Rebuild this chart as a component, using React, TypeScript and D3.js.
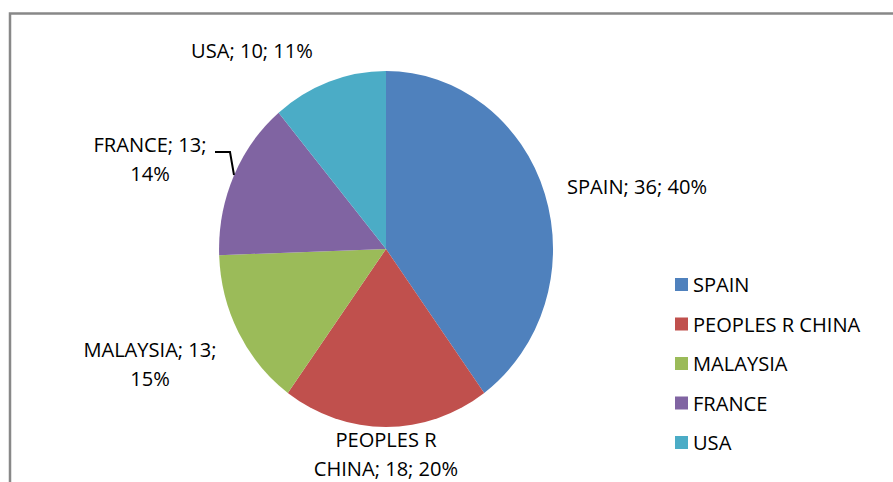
import React from "react";
import * as d3 from "d3";

const categories = ["SPAIN", "PEOPLES R CHINA", "MALAYSIA", "FRANCE", "USA"];
const values = [36, 18, 13, 13, 10];
const percentLabels = ["40%", "20%", "15%", "14%", "11%"];
const colors = ["#4F81BD", "#C0504D", "#9BBB59", "#8064A2", "#4BACC6"];

const W = 893;
const H = 482;
const FONT = "'Open Sans', 'Liberation Sans', sans-serif";
const FS = 20.5;

export default function App() {
  const cx = 386;
  const cy = 249;
  const rx = 167;
  const ry = 178;

  const pie = d3
    .pie<number>()
    .sort(null)
    .startAngle(0)
    .endAngle(2 * Math.PI)
    .value((d) => d);
  const arcs = pie(values);
  const arc = d3.arc<d3.PieArcDatum<number>>().innerRadius(0).outerRadius(1);

  const labelLayout: { lines: string[]; x: number; y: number }[] = [
    { lines: [`${categories[0]}; ${values[0]}; ${percentLabels[0]}`], x: 637, y: 194 },
    { lines: [`PEOPLES R`, `CHINA; ${values[1]}; ${percentLabels[1]}`], x: 386, y: 447 },
    { lines: [`${categories[2]}; ${values[2]};`, percentLabels[2]], x: 150, y: 357 },
    { lines: [`${categories[3]}; ${values[3]};`, percentLabels[3]], x: 150, y: 152 },
    { lines: [`${categories[4]}; ${values[4]}; ${percentLabels[4]}`], x: 252, y: 58 },
  ];

  const legendX = 675;
  const legendY0 = 285;
  const legendStep = 39.5;
  const sx = 0.98;

  return (
    <svg
      width={W}
      height={H}
      style={{ position: "absolute", left: 0, top: 0, background: "#fff" }}
      fontFamily={FONT}
    >
      <rect x={0} y={0} width={W} height={H} fill="#fff" />
      <rect x={10} y={13.5} width={W + 20} height={H + 20} fill="none" stroke="#888" strokeWidth={2.5} />
      <g transform={`translate(${cx},${cy}) scale(${rx},${ry})`}>
        {arcs.map((a, i) => (
          <path key={i} d={arc(a) || ""} fill={colors[i]} />
        ))}
      </g>
      <polyline points="215,152 230,152 234,175" fill="none" stroke="#000" strokeWidth={2} />
      {labelLayout.map((l, i) => (
        <text
          key={i}
          x={l.x}
          y={l.y}
          textAnchor="middle"
          fontSize={FS}
          fill="#000"
          transform={`translate(${l.x},0) scale(${sx},1) translate(${-l.x},0)`}
        >
          {l.lines.map((ln, j) => (
            <tspan key={j} x={l.x} dy={j === 0 ? 0 : 29}>
              {ln}
            </tspan>
          ))}
        </text>
      ))}
      {categories.map((c, i) => (
        <g key={c}>
          <rect x={legendX} y={legendY0 + i * legendStep - 7} width={13} height={13} fill={colors[i]} />
          <text
            x={legendX + 18}
            y={legendY0 + i * legendStep + 7.5}
            fontSize={FS}
            fill="#000"
            transform={`translate(${legendX + 18},0) scale(${sx},1) translate(${-(legendX + 18)},0)`}
          >
            {c}
          </text>
        </g>
      ))}
    </svg>
  );
}
